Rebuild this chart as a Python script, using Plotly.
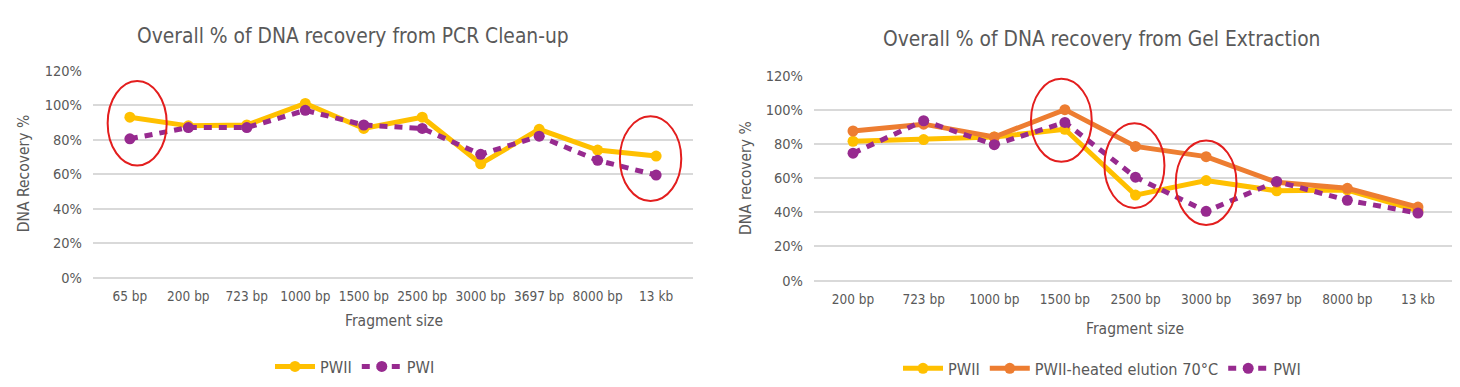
import plotly.graph_objects as go

# ---- Data ----
pcr_sizes = ["65 bp", "200 bp", "723 bp", "1000 bp", "1500 bp", "2500 bp",
             "3000 bp", "3697 bp", "8000 bp", "13 kb"]
pcr_pwii = [0.93, 0.88, 0.885, 1.01, 0.865, 0.93, 0.66, 0.86, 0.74, 0.705]
pcr_pwi = [0.805, 0.87, 0.87, 0.97, 0.885, 0.865, 0.715, 0.82, 0.68, 0.595]

gel_sizes = ["200 bp", "723 bp", "1000 bp", "1500 bp", "2500 bp", "3000 bp",
             "3697 bp", "8000 bp", "13 kb"]
gel_pwii = [0.815, 0.825, 0.84, 0.885, 0.50, 0.585, 0.525, 0.53, 0.41]
gel_heated = [0.875, 0.915, 0.84, 1.00, 0.785, 0.725, 0.575, 0.54, 0.43]
gel_pwi = [0.745, 0.935, 0.795, 0.925, 0.605, 0.405, 0.58, 0.47, 0.395]

y_ticks = [0, 0.2, 0.4, 0.6, 0.8, 1.0, 1.2]
y_tick_text = ["0%", "20%", "40%", "60%", "80%", "100%", "120%"]

# highlight ellipses: (x0, x1, y0, y1) in category-index / value units
pcr_ellipses = [(-0.38, 0.63, 0.65, 1.14), (8.38, 9.43, 0.445, 0.935)]
gel_ellipses = [(2.52, 3.38, 0.695, 1.18), (3.56, 4.41, 0.425, 0.92),
                (4.57, 5.43, 0.325, 0.82)]

YELLOW = "#FFC000"
ORANGE = "#ED7D31"
PURPLE = "#972A8F"
RED = "#E31E1E"
GRID = "#D9D9D9"
TXT = "#595959"
FONT = "DejaVu Sans Condensed, Liberation Sans Narrow, Liberation Sans, Arial, sans-serif"

fig = go.Figure()

def add_line(x, y, name, color, xa, ya, legend, dash="solid"):
    fig.add_trace(go.Scatter(
        x=x, y=y, name=name, mode="lines+markers",
        line=dict(color=color, width=5, dash=dash),
        marker=dict(color=color, size=11),
        xaxis=xa, yaxis=ya, legend=legend))

add_line(pcr_sizes, pcr_pwii, "PWII", YELLOW, "x", "y", "legend")
add_line(pcr_sizes, pcr_pwi, "PWI", PURPLE, "x", "y", "legend", dash="8px,7px")
add_line(gel_sizes, gel_pwii, "PWII", YELLOW, "x2", "y2", "legend2")
add_line(gel_sizes, gel_heated, "PWII-heated elution 70°C", ORANGE, "x2", "y2", "legend2")
add_line(gel_sizes, gel_pwi, "PWI", PURPLE, "x2", "y2", "legend2", dash="8px,7px")

W, H = 1460, 387

xcommon = dict(type="category", showgrid=False, zeroline=False, showline=False,
               ticks="", tickangle=0,
               tickfont=dict(family=FONT, size=13.5, color=TXT),
               ticklabelstandoff=9)
ycommon = dict(range=[0, 1.2], tickvals=y_ticks, ticktext=y_tick_text,
               showgrid=True, gridcolor=GRID, gridwidth=2,
               zeroline=True, zerolinecolor=GRID, zerolinewidth=2,
               showline=False, ticks="",
               tickfont=dict(family=FONT, size=14.5, color=TXT),
               ticklabelstandoff=10)

shapes = []
for (x0, x1, y0, y1) in pcr_ellipses:
    shapes.append(dict(type="circle", xref="x", yref="y", x0=x0, x1=x1, y0=y0, y1=y1,
                       line=dict(color=RED, width=2)))
for (x0, x1, y0, y1) in gel_ellipses:
    shapes.append(dict(type="circle", xref="x2", yref="y2", x0=x0, x1=x1, y0=y0, y1=y1,
                       line=dict(color=RED, width=2)))

def ann(text, x, y, size, angle=0):
    return dict(text=text, x=x / W, y=1 - y / H, xref="paper", yref="paper",
                showarrow=False, xanchor="center", yanchor="middle", textangle=angle,
                font=dict(family=FONT, size=size, color=TXT))

annotations = [
    ann("Overall % of DNA recovery from PCR Clean-up", 345, 21, 20.8),
    ann("Overall % of DNA recovery from Gel Extraction", 1093, 24, 20.8),
    ann("Fragment size", 386, 318, 15.5),
    ann("Fragment size", 1127, 326, 15.5),
    ann("DNA Recovery %", 16, 165, 15.5, -90),
    ann("DNA recovery %", 738, 169, 15.5, -90),
]

legend_common = dict(orientation="h", xanchor="center", yanchor="middle",
                     font=dict(family=FONT, size=16.2, color=TXT),
                     bgcolor="rgba(0,0,0,0)", itemwidth=40, tracegroupgap=0)

fig.update_layout(
    width=W, height=H,
    margin=dict(l=0, r=0, t=0, b=0),
    paper_bgcolor="white", plot_bgcolor="white",
    xaxis=dict(domain=[85 / W, 685 / W], anchor="y", **xcommon),
    yaxis=dict(domain=[1 - 273 / H, 1 - 57 / H], anchor="x", **ycommon),
    xaxis2=dict(domain=[806 / W, 1449 / W], anchor="y2", **xcommon),
    yaxis2=dict(domain=[1 - 276 / H, 1 - 62 / H], anchor="x2", **ycommon),
    legend=dict(x=347 / W, y=1 - 366 / H, **legend_common),
    legend2=dict(x=1094 / W, y=1 - 368 / H, **legend_common),
    shapes=shapes,
    annotations=annotations,
    showlegend=True,
)

fig.write_html("out.html")
